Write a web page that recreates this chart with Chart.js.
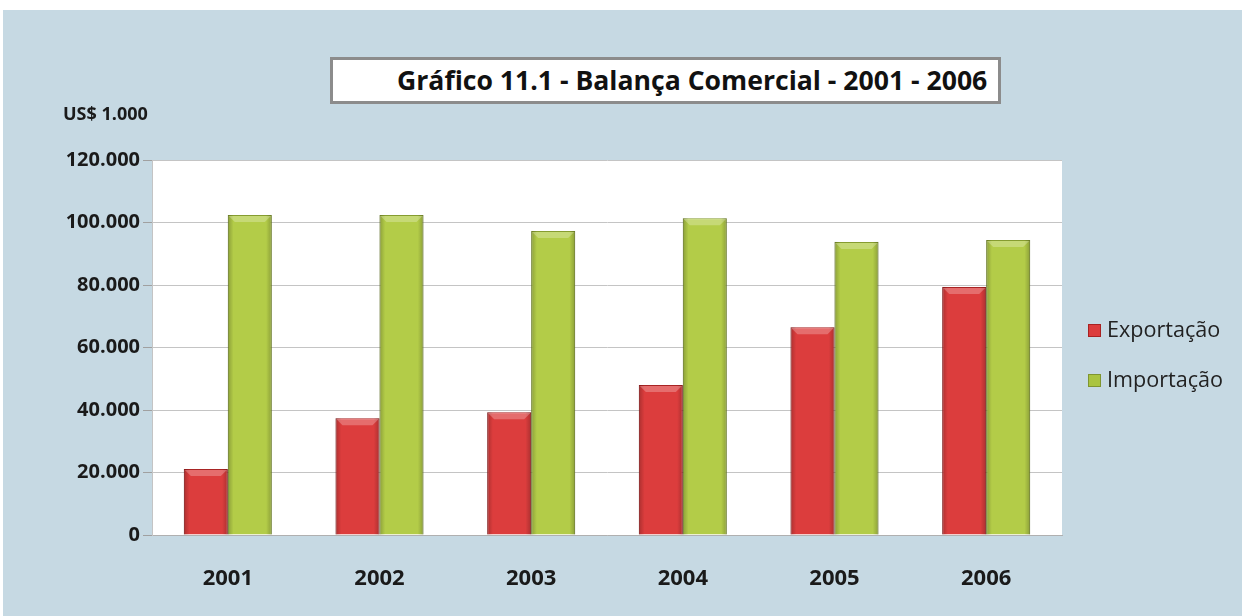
<!DOCTYPE html>
<html>
<head>
<meta charset="utf-8">
<script src="https://cdn.jsdelivr.net/npm/chart.js@4.4.1/dist/chart.umd.min.js"></script>
<style>
  html, body { margin: 0; padding: 0; background: #fff; }
  #wrap { position: relative; width: 1242px; height: 616px; overflow: hidden; }
  #bg { position: absolute; left: 3px; top: 10px; right: 0; bottom: 0; background: #c6d9e3; }
  #chart { position: absolute; left: 0; top: 0; }
  #title {
    position: absolute; left: 330px; top: 57px; width: 671px; height: 47px;
    box-sizing: border-box;
    background: #fff; border: 3px solid #8c8c8c;
    font-family: "Open Sans", "Noto Sans", sans-serif; font-weight: bold; font-size: 26.6px;
    color: #111; line-height: 40px; padding-left: 64px; white-space: nowrap;
  }
  #unit {
    position: absolute; left: 63px; top: 101px;
    font-family: "Open Sans", "Noto Sans", sans-serif; font-weight: bold; font-size: 18px; color: #1a1a1a;
  }
</style>
</head>
<body>
<div id="wrap">
  <div id="bg"></div>
  <canvas id="chart" width="1242" height="616"></canvas>
  <div id="title">Gráfico 11.1 - Balança Comercial - 2001 - 2006</div>
  <div id="unit">US$ 1.000</div>
</div>
<script>
const years = ['2001', '2002', '2003', '2004', '2005', '2006'];
const exportacao = [21100, 37400, 39300, 48000, 66500, 79400];
const importacao = [102400, 102400, 97300, 101400, 93800, 94400];
const seriesNames = ['Exportação', 'Importação'];

const fontFamily = '"Open Sans", "Noto Sans", sans-serif';

const plotBg = {
  id: 'plotBg',
  beforeDraw(chart) {
    const { ctx, chartArea: a } = chart;
    ctx.save();
    ctx.fillStyle = '#ffffff';
    ctx.fillRect(a.left, a.top, a.right - a.left, a.bottom - a.top);
    ctx.restore();
  }
};

// bevel look: darker side edges, lighter top cap
const bevel = {
  id: 'bevel',
  afterDatasetsDraw(chart) {
    const { ctx } = chart;
    ctx.save();
    chart.data.datasets.forEach((ds, i) => {
      chart.getDatasetMeta(i).data.forEach((bar) => {
        const w = bar.width, x0 = bar.x - w / 2, top = bar.y, bottom = bar.base;
        const g = ctx.createLinearGradient(x0, 0, x0 + w, 0);
        g.addColorStop(0, 'rgba(0,0,0,0.22)');
        g.addColorStop(0.13, 'rgba(0,0,0,0)');
        g.addColorStop(0.87, 'rgba(0,0,0,0)');
        g.addColorStop(1, 'rgba(0,0,0,0.22)');
        ctx.fillStyle = g;
        ctx.fillRect(x0, top, w, bottom - top);
        ctx.fillStyle = 'rgba(255,255,255,0.25)';
        ctx.beginPath();
        ctx.moveTo(x0 + 1, top + 1);
        ctx.lineTo(x0 + w - 1, top + 1);
        ctx.lineTo(x0 + w - 7, top + 7);
        ctx.lineTo(x0 + 7, top + 7);
        ctx.closePath();
        ctx.fill();
      });
    });
    ctx.restore();
  }
};

const sideLegend = {
  id: 'sideLegend',
  afterDraw(chart) {
    const { ctx } = chart;
    const rows = [330, 380];
    const swatch = ['#dc3c3c', '#aac440'];
    ctx.save();
    chart.data.datasets.forEach((ds, i) => {
      const y = rows[i];
      ctx.fillStyle = swatch[i];
      ctx.fillRect(1088, y - 6, 13, 13);
      ctx.strokeStyle = i === 0 ? '#a82222' : '#7f9530';
      ctx.lineWidth = 1;
      ctx.strokeRect(1088.5, y - 5.5, 12, 12);
      ctx.fillStyle = '#222';
      ctx.font = '21.6px ' + fontFamily;
      ctx.textBaseline = 'middle';
      ctx.fillText(ds.label, 1107, y + 1);
    });
    ctx.restore();
  }
};

new Chart(document.getElementById('chart'), {
  type: 'bar',
  data: {
    labels: years,
    datasets: [
      {
        label: seriesNames[0],
        data: exportacao,
        backgroundColor: '#dc3d3d',
        borderColor: '#a82424',
        borderWidth: 1
      },
      {
        label: seriesNames[1],
        data: importacao,
        backgroundColor: '#b3cc48',
        borderColor: '#869c30',
        borderWidth: 1
      }
    ]
  },
  options: {
    responsive: false,
    animation: false,
    layout: { padding: { left: 0, top: 160, right: 180, bottom: 0 } },
    datasets: { bar: { barPercentage: 1, categoryPercentage: 0.58 } },
    plugins: { legend: { display: false }, tooltip: { enabled: false } },
    scales: {
      x: {
        grid: { display: false, drawTicks: false },
        border: { color: '#b0b0b0', width: 1 },
        ticks: {
          padding: 31,
          color: '#1a1a1a',
          font: { family: fontFamily, size: 22, weight: 'bold' }
        },
        afterFit(scale) { scale.height = 81; }
      },
      y: {
        min: 0,
        max: 120000,
        grid: { color: '#c4c4c4', tickLength: 9, tickColor: '#a0a0a0' },
        border: { display: true, color: '#c4c4c4' },
        ticks: {
          stepSize: 20000,
          padding: 3,
          color: '#1a1a1a',
          font: { family: fontFamily, size: 20, weight: 'bold' },
          callback: (v) => v.toLocaleString('pt-BR')
        },
        afterFit(scale) { scale.width = 152; }
      }
    }
  },
  plugins: [plotBg, bevel, sideLegend]
});
</script>
</body>
</html>
